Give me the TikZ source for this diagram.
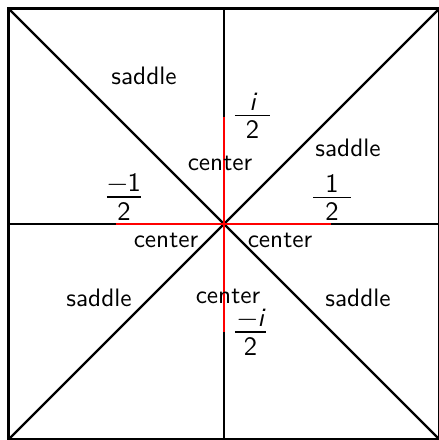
\documentclass[tikz,border=0pt]{standalone}
\newcommand{\fracbar}[3]{\makebox[#1]{\rule[-0.3pt]{#1}{0.6pt}\llap{\makebox[#1]{\raisebox{2.1pt}{#2}}}\llap{\makebox[#1]{\raisebox{\dimexpr-\height-2.1pt\relax}{#3}}}}}
\begin{document}
\begin{tikzpicture}[x=0.396pt,y=-0.396pt,
  ln/.style={line width=0.95pt,black},
  rd/.style={line width=0.95pt,red},
  lbl/.style={inner sep=0pt,font=\sffamily\fontsize{10}{12}\selectfont},
  frc/.style={inner sep=0pt,anchor=base,font=\sffamily\fontsize{10.5}{12}\selectfont}]
\useasboundingbox (0,0) rectangle (439,440);
\coordinate (tl) at (8.5,8.5);
\coordinate (tr) at (439.5,8.5);
\coordinate (bl) at (8.5,439.5);
\coordinate (br) at (439.5,439.5);
\coordinate (tm) at (224,8.5);
\coordinate (bm) at (224,439.5);
\coordinate (lm) at (8.5,224);
\coordinate (rm) at (439.5,224);
\coordinate (rt) at (224,116.5);
\coordinate (rb) at (224,331.5);
\coordinate (rl) at (116.5,224);
\coordinate (rr) at (331.5,224);
\draw[ln] (tl) rectangle (br);
\draw[ln] (tm) -- (bm);
\draw[ln] (lm) -- (rm);
\draw[ln] (tl) -- (br);
\draw[ln] (tr) -- (bl);
\draw[rd] (rt) -- (rb);
\draw[rd] (rl) -- (rr);
\node[lbl] (s1) at (144,76) {saddle};
\node[lbl] (s2) at (348,148) {saddle};
\node[lbl] (s3) at (99,298) {saddle};
\node[lbl] (s4) at (358,298) {saddle};
\node[lbl] (c1) at (220,163) {center};
\node[lbl] (c2) at (166,240) {center};
\node[lbl] (c3) at (280,240) {center};
\node[lbl] (c4) at (228,296) {center};
\node[frc] (f1) at (252.5,115.5) {\fracbar{13.9pt}{\itshape i}{2}};
\node[frc] (f2) at (250.5,332) {\fracbar{12.3pt}{−\itshape i}{2}};
\node[frc] (f3) at (124,197) {\fracbar{13.5pt}{−1}{2}};
\node[frc] (f4) at (332,197.5) {\fracbar{15pt}{1}{2}};
\end{tikzpicture}
\end{document}
